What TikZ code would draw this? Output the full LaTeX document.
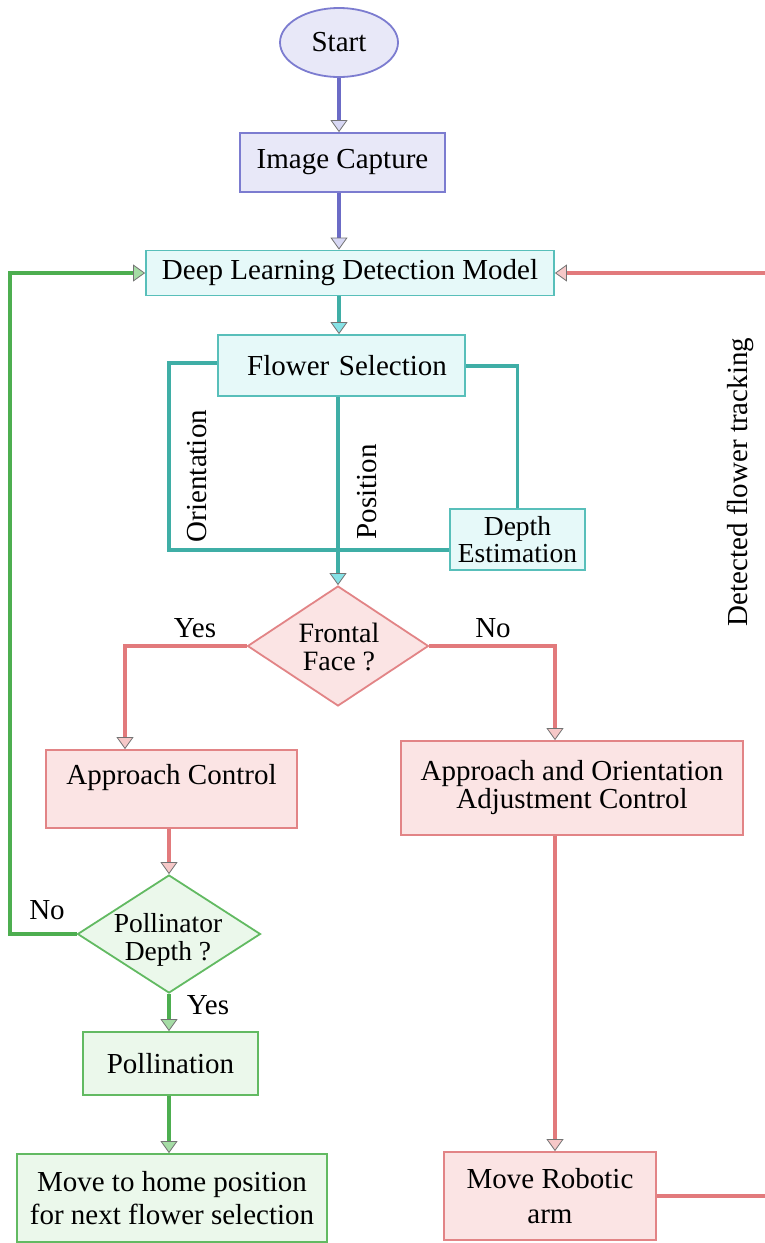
\documentclass[tikz,border=0pt]{standalone}
\usepackage{fontspec}
\setmainfont{Liberation Serif}
\usetikzlibrary{shapes.geometric,arrows.meta}
\definecolor{pline}{HTML}{6B6BC6}
\definecolor{pfill}{HTML}{E8E8F8}
\definecolor{pdraw}{HTML}{7C7CD0}
\definecolor{ptip}{HTML}{D8D8F4}
\definecolor{tline}{HTML}{3FAEA6}
\definecolor{tfill}{HTML}{E6F9F9}
\definecolor{tdraw}{HTML}{58BFBA}
\definecolor{ttip}{HTML}{86E2E6}
\definecolor{rline}{HTML}{E27A7C}
\definecolor{rfill}{HTML}{FBE4E4}
\definecolor{rdraw}{HTML}{E28486}
\definecolor{rtip}{HTML}{F6C8C8}
\definecolor{gline}{HTML}{4DAE50}
\definecolor{gfill}{HTML}{EBF8EB}
\definecolor{gdraw}{HTML}{62BA62}
\definecolor{gtip}{HTML}{A5DCA5}
\tikzset{
  txt/.style={font=\fontsize{29}{30}\selectfont, text=black, inner sep=0pt, align=center},
  box/.style={txt, draw, rectangle, line width=1.8pt},
  pbox/.style={box, draw=pdraw, fill=pfill},
  tbox/.style={box, draw=tdraw, fill=tfill},
  rbox/.style={box, draw=rdraw, fill=rfill},
  gbox/.style={box, draw=gdraw, fill=gfill},
  conn/.style={line width=3.4pt},
  tipof/.style={-{Triangle[width=17pt,length=12pt,fill=#1,color=black!55,line width=0.8pt]}},
  parrow/.style={conn, draw=pline, tipof=ptip},
  tline/.style={conn, draw=tline},
  tarrow/.style={conn, draw=tline, tipof=ttip},
  rline/.style={conn, draw=rline},
  rarrow/.style={conn, draw=rline, tipof=rtip},
  gline/.style={conn, draw=gline},
  garrow/.style={conn, draw=gline, tipof=gtip},
}
\begin{document}
\begin{tikzpicture}[x=1pt,y=-1pt]
\useasboundingbox (0,0) rectangle (764,1243);
\fill[white] (0,0) rectangle (764,1243);

% nodes
\node[txt, ellipse, draw=pdraw, fill=pfill, line width=1.8pt, minimum width=118pt, minimum height=69pt] (start) at (339,42.5) {Start};
\node[pbox, minimum width=205pt, minimum height=59pt] (cap) at (342.5,162.5) {Image Capture};
\node[tbox, minimum width=408pt, minimum height=45pt] (dl) at (350,273) {Deep Learning Detection Model};
\node[tbox, minimum width=247pt, minimum height=61pt, text width=247pt] (fs) at (341.5,365.5) {\hspace*{11pt}Flower Selection};
\node[tbox, minimum width=135pt, minimum height=61pt, font=\fontsize{27.5}{27.5}\selectfont] (de) at (517.5,539.5) {Depth\\Estimation};
\node[diamond, draw=rdraw, fill=rfill, line width=1.8pt, inner sep=0pt, minimum width=181pt, minimum height=120pt] (ff) at (338,646) {};
\node[txt, font=\fontsize{28}{28}\selectfont] (fft) at (339,647) {Frontal\\Face ?};
\node[rbox, minimum width=251pt, minimum height=78pt] (ac) at (171.5,789) {};
\node[txt] (act) at (171.5,778) {Approach Control};
\node[rbox, minimum width=342pt, minimum height=94pt, font=\fontsize{29}{28}\selectfont] (ao) at (572,788) {Approach and Orientation\\Adjustment Control};
\node[diamond, draw=gdraw, fill=gfill, line width=1.8pt, inner sep=0pt, minimum width=183pt, minimum height=118pt] (pd) at (169,934) {};
\node[txt, font=\fontsize{27.5}{27.5}\selectfont] (pdt) at (168,940) {Pollinator\\Depth ?};
\node[gbox, minimum width=175pt, minimum height=63pt] (pol) at (170.5,1063.5) {Pollination};
\node[gbox, minimum width=310pt, minimum height=88pt, font=\fontsize{29}{33}\selectfont] (home) at (172,1198) {Move to home position\\for next flower selection};
\node[rbox, minimum width=212pt, minimum height=88pt, font=\fontsize{29}{35}\selectfont] (mra) at (550,1196) {Move Robotic\\arm};

% labels
\node[txt] (lyes1) at (195,628) {Yes};
\node[txt] (lno1) at (493,628) {No};
\node[txt] (lno2) at (47,910) {No};
\node[txt] (lyes2) at (208,1005) {Yes};
\node[txt, rotate=90] (lori) at (197,476) {Orientation};
\node[txt, rotate=90] (lpos) at (367,492) {Position};
\node[txt, rotate=90] (ltrack) at (740,482) {Detected flower tracking};

% coordinates
\coordinate (oc1) at (169,363);
\coordinate (oc2) at (169,550);
\coordinate (rc) at (517.5,366);
\coordinate (yc) at (125,646);
\coordinate (nc) at (555,646);
\coordinate (gc1) at (10,934);
\coordinate (gc2) at (10,273);
\coordinate (ec1) at (772,1196);
\coordinate (ec2) at (772,273);

% connectors
\draw[parrow] (start.south) -- (start.south |- cap.north);
\draw[parrow] (start.south |- cap.south) -- (start.south |- dl.north);
\draw[tarrow] (start.south |- dl.south) -- (start.south |- fs.north);
\draw[tline] (fs.west |- oc1) -- (oc1) -- (oc2) -- (de.west |- oc2);
\draw[tline] (fs.east |- rc) -- (rc) -- (de.north);
\draw[tarrow] (ff.north |- fs.south) -- (ff.north);
\draw[rarrow] (ff.west) -- (yc) -- (yc |- ac.north);
\draw[rarrow] (ff.east) -- (nc) -- (nc |- ao.north);
\draw[rarrow] (pd.north |- ac.south) -- (pd.north);
\draw[garrow] (pd.south) -- (pd.south |- pol.north);
\draw[garrow] (pd.south |- pol.south) -- (pd.south |- home.north);
\draw[garrow] (pd.west) -- (gc1) -- (gc2) -- (dl.west);
\draw[rarrow] (nc |- ao.south) -- (nc |- mra.north);
\draw[rarrow] (mra.east) -- (ec1) -- (ec2) -- (dl.east);
\end{tikzpicture}
\end{document}
